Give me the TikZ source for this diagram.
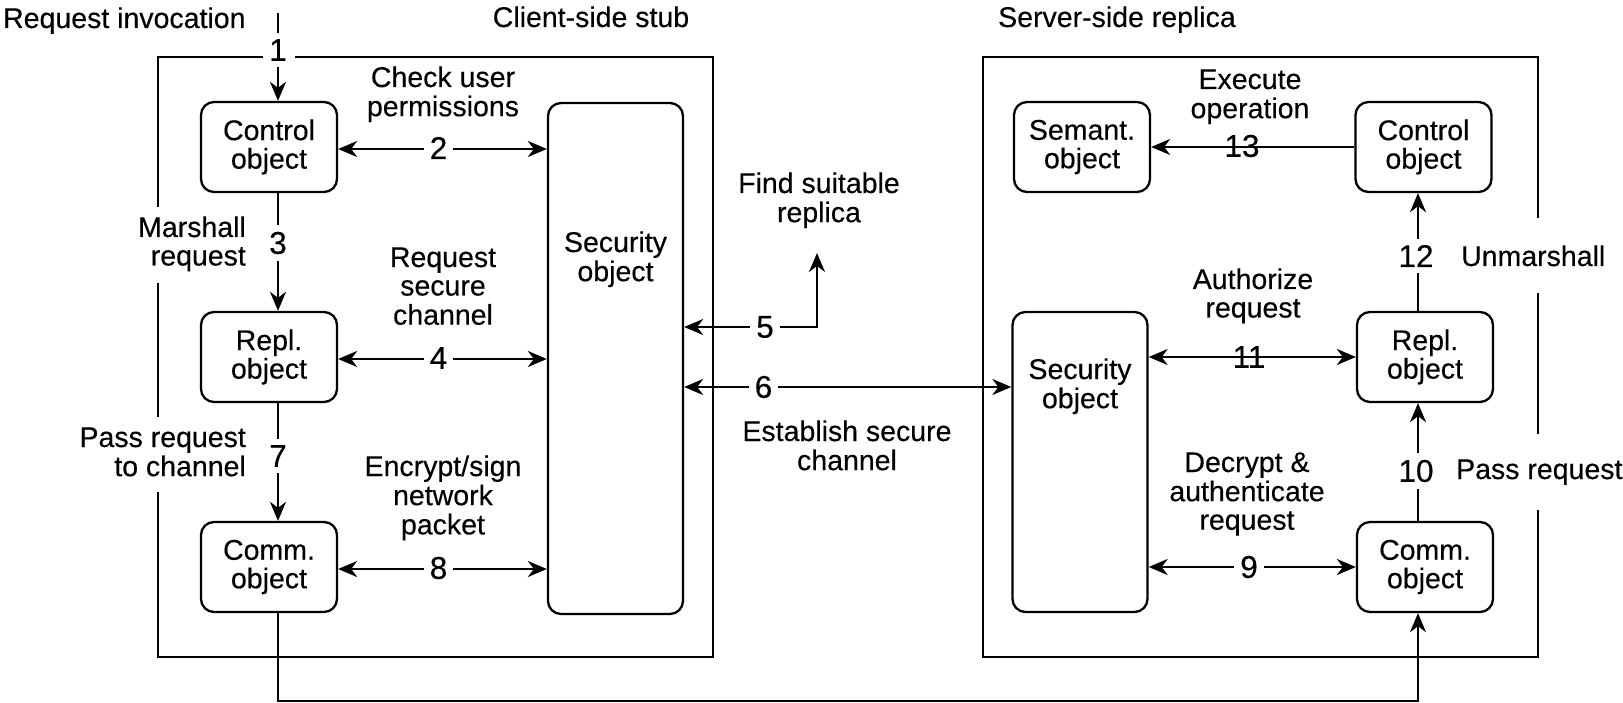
\documentclass[tikz,border=0pt]{standalone}
\usepackage{fontspec}
\setmainfont{Liberation Sans}[FakeBold=0.3]
\usetikzlibrary{arrows.meta}
\newcommand\lc[1]{\begin{tabular}[t]{@{}c@{}}#1\end{tabular}}
\newcommand\lr[1]{\begin{tabular}[t]{@{}r@{}}#1\end{tabular}}
\begin{document}
\begin{tikzpicture}[x=1pt,y=-1pt,line width=2.3pt,
  font=\fontsize{28.5}{28.5}\selectfont,
  box/.style={draw,rounded corners=13pt,minimum width=136pt,minimum height=90pt,inner sep=0pt,align=center},
  secbox/.style={draw,rounded corners=13pt,minimum width=135pt,inner sep=0pt},
  num/.style={fill=white,inner xsep=6pt,inner ysep=6.5pt,font=\fontsize{31.5}{31.5}\selectfont},
  numc/.style={inner sep=0pt,font=\fontsize{31.5}{31.5}\selectfont},
  lbl/.style={inner sep=0pt,anchor=base},
  tip/.tip={Stealth[length=19pt,width=16pt,inset=6pt]},
  arr/.style={-tip},
  darr/.style={tip-tip}]
\useasboundingbox (0,0) rectangle (1623,703);

% frames
\draw (263,57) -- (158,57) -- (158,207);
\draw (158,283) -- (158,417);
\draw (158,492) -- (158,657) -- (713,657) -- (713,57) -- (295,57);
\draw (1538,218) -- (1538,57) -- (983,57) -- (983,657) -- (1538,657) -- (1538,510);
\draw (1538,434) -- (1538,293);

% client objects
\node[box] (cctrl) at (269,147) {Control\\object};
\node[box] (crepl) at (269,357) {Repl.\\object};
\node[box] (ccomm) at (269,567) {Comm.\\object};
\node[secbox,minimum height=511pt] (csec) at (615.5,358.5) {};
\node[lbl] (cseclbl) at (615.5,252) {\lc{Security\\object}};

% server objects
\node[box] (ssem) at (1082,147) {Semant.\\object};
\node[box] (sctrl) at (1423.5,147) {Control\\object};
\node[box] (srepl) at (1425,357) {Repl.\\object};
\node[box] (scomm) at (1425,567) {Comm.\\object};
\node[secbox,minimum height=300pt] (ssec) at (1080,462) {};
\node[lbl] (sseclbl) at (1080,379) {\lc{Security\\object}};

% helper coordinates
\coordinate (top1) at (278,13);
\coordinate (xl) at (278,0);
\coordinate (xr) at (1418,0);
\coordinate (y2) at (0,149);
\coordinate (y4) at (0,359);
\coordinate (y8) at (0,569);
\coordinate (y6) at (0,387);
\coordinate (y11) at (0,357);
\coordinate (y9) at (0,567);
\coordinate (y13) at (0,147);
\coordinate (c5top) at (817,253);
\coordinate (c5cor) at (817,327);
\coordinate (bl) at (278,701);
\coordinate (br) at (1418,701);

% connectors
\draw[arr] (top1) -- (cctrl.north -| top1);
\draw[arr] (cctrl.south -| xl) -- (crepl.north -| xl);
\draw[arr] (crepl.south -| xl) -- (ccomm.north -| xl);
\draw[darr] (cctrl.east |- y2) -- (csec.west |- y2);
\draw[darr] (crepl.east |- y4) -- (csec.west |- y4);
\draw[darr] (ccomm.east |- y8) -- (csec.west |- y8);
\draw[darr] (c5top) -- (c5cor) -- (csec.east |- c5cor);
\draw[darr] (csec.east |- y6) -- (ssec.west |- y6);
\draw[darr] (ssec.east |- y11) -- (srepl.west |- y11);
\draw[darr] (ssec.east |- y9) -- (scomm.west |- y9);
\draw[arr] (sctrl.west |- y13) -- (ssem.east |- y13);
\draw[arr] (srepl.north -| xr) -- (sctrl.south -| xr);
\draw[arr] (scomm.north -| xr) -- (srepl.south -| xr);
\draw[arr] (ccomm.south -| bl) -- (bl) -- (br) -- (scomm.south -| br);

% number labels
\node[num] (n1) at (278,50) {1};
\node[num] (n2) at (438.5,148) {2};
\node[num] (n3) at (278,243) {3};
\node[num] (n4) at (438.5,358) {4};
\node[num] (n5) at (765,327) {5};
\node[num] (n6) at (763.5,387) {6};
\node[num] (n7) at (278,456) {7};
\node[num] (n8) at (438.5,568) {8};
\node[num] (n9) at (1249,567) {9};
\node[num] (n10) at (1416,471) {10};
\node[numc] (n11) at (1249,357) {11};
\node[num] (n12) at (1416,256) {12};
\node[numc] (n13) at (1242,146) {13};

% text labels
\node[lbl,anchor=base west] (treq) at (2,28) {Request invocation};
\node[lbl] (tcli) at (591,27) {Client-side stub};
\node[lbl] (tsrv) at (1117,27) {Server-side replica};
\node[lbl] (tchk) at (443,87) {\lc{Check user\\permissions}};
\node[lbl] (trsc) at (443,267) {\lc{Request\\secure\\channel}};
\node[lbl] (tenc) at (443,476) {\lc{Encrypt/sign\\network\\packet}};
\node[lbl] (tfind) at (819,193) {\lc{Find suitable\\replica}};
\node[lbl] (testab) at (847,441) {\lc{Establish secure\\channel}};
\node[lbl] (texec) at (1250,89) {\lc{Execute\\operation}};
\node[lbl] (tauth) at (1253,289) {\lc{Authorize\\request}};
\node[lbl] (tdec) at (1247,472) {\lc{Decrypt \&\\authenticate\\request}};
\node[lbl,anchor=base east] (tmar) at (247,237) {\lr{Marshall\\request}};
\node[lbl,anchor=base east] (tpass) at (247,447) {\lr{Pass request\\to channel}};
\node[lbl,anchor=base west] (tunm) at (1460,266) {Unmarshall};
\node[lbl,anchor=base west] (tpass2) at (1455,479) {Pass request};
\end{tikzpicture}
\end{document}
